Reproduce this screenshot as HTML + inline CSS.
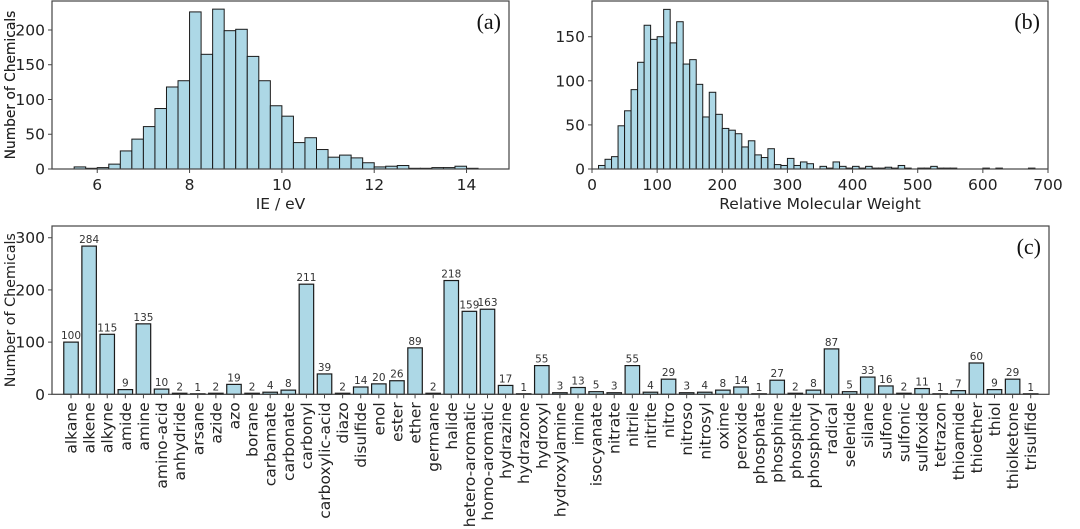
<!DOCTYPE html>
<html><head><meta charset="utf-8">
<style>
html,body{margin:0;padding:0;background:#fff;}
svg{display:block;font-family:"DejaVu Sans","Liberation Sans",sans-serif;}
</style></head>
<body>
<svg id="fig" width="1080" height="529" viewBox="0 0 1080 529" xmlns="http://www.w3.org/2000/svg"></svg>
<script>
// Panel (a): IE histogram
const ieBinStarts = [5.5,5.75,6.0,6.25,6.5,6.75,7.0,7.25,7.5,7.75,8.0,8.25,8.5,8.75,9.0,9.25,9.5,9.75,10.0,10.25,10.5,10.75,11.0,11.25,11.5,11.75,12.0,12.25,12.5,12.75,13.0,13.25,13.5,13.75,14.0];
const ieCounts = [3,1,2,7,26,43,61,87,118,127,226,165,230,199,201,162,127,91,76,38,45,28,17,20,16,9,3,4,5,1,1,2,2,4,1];
const ieBinWidth = 0.25;
const ieXTicks = [6,8,10,12,14];
const ieYTicks = [0,50,100,150,200];
// Panel (b): molecular weight histogram
const mwBinStarts = [10,20,30,40,50,60,70,80,90,100,110,120,130,140,150,160,170,180,190,200,210,220,230,240,250,260,270,280,290,300,310,320,330,340,350,360,370,380,390,400,410,420,430,440,450,460,470,480,490,500,510,520,530,540,550,600,620,670];
const mwCounts = [4,11,14,49,66,90,121,163,147,150,181,143,167,119,124,96,59,87,62,46,44,40,25,32,16,13,23,5,4,12,4,8,6,0,3,1,8,3,1,3,1,3,1,1,2,1,4,1,0,1,1,3,1,1,1,1,1,1];
const mwBinWidth = 10;
const mwXTicks = [0,100,200,300,400,500,600,700];
const mwYTicks = [0,50,100,150];
// Panel (c): functional groups
const groups = ["alkane","alkene","alkyne","amide","amine","amino-acid","anhydride","arsane","azide","azo","borane","carbamate","carbonate","carbonyl","carboxylic-acid","diazo","disulfide","enol","ester","ether","germane","halide","hetero-aromatic","homo-aromatic","hydrazine","hydrazone","hydroxyl","hydroxylamine","imine","isocyanate","nitrate","nitrile","nitrite","nitro","nitroso","nitrosyl","oxime","peroxide","phosphate","phosphine","phosphite","phosphoryl","radical","selenide","silane","sulfone","sulfonic","sulfoxide","tetrazon","thioamide","thioether","thiol","thiolketone","trisulfide"];
const groupCounts = [100,284,115,9,135,10,2,1,2,19,2,4,8,211,39,2,14,20,26,89,2,218,159,163,17,1,55,3,13,5,3,55,4,29,3,4,8,14,1,27,2,8,87,5,33,16,2,11,1,7,60,9,29,1];
const groupYTicks = [0,100,200,300];

const NS = "http://www.w3.org/2000/svg";
const svg = document.getElementById('fig');
function mk(tag, attrs, parent, text){
  const e = document.createElementNS(NS, tag);
  for (const k in attrs) e.setAttribute(k, attrs[k]);
  if (text !== undefined) e.textContent = text;
  (parent||svg).appendChild(e);
  return e;
}
const FILL = "#add8e6", EDGE = "#1a1a1a", AX = "#444";
const FS = 15.5;

function panel(name, box, xmin, xmax, ymin, ymax){
  const g = mk('g', {});
  
  
  const sx = v => box.l + (v - xmin) / (xmax - xmin) * (box.r - box.l);
  const sy = v => box.b - (v - ymin) / (ymax - ymin) * (box.b - box.t);
  return {g, sx, sy};
}
function frame(p, box, name){
  const r = mk('rect', {x:box.l, y:box.t, width:box.r-box.l, height:box.b-box.t, fill:'none', stroke:AX, 'stroke-width':1.2}, p.g);
  
  
}
function yAxis(p, box, ticks, prefix, tfs){
  ticks.forEach(t => {
    const y = p.sy(t);
    mk('line', {x1:box.l-4, x2:box.l, y1:y, y2:y, stroke:AX, 'stroke-width':1}, p.g);
    const tx = mk('text', {x:box.l-7, y:y+5.5, 'text-anchor':'end', 'font-size':FS, fill:'#222'}, p.g, String(t));
    
    
  });
  const cy = (box.t + box.b) / 2;
  const tt = mk('text', {x:0, y:0, transform:`translate(15,${cy}) rotate(-90)`, 'text-anchor':'middle', 'font-size':tfs, fill:'#222'}, p.g, 'Number of Chemicals');
  
  
}
function xAxis(p, box, ticks, title, prefix){
  ticks.forEach(t => {
    const x = p.sx(t);
    mk('line', {x1:x, x2:x, y1:box.b, y2:box.b+4, stroke:AX, 'stroke-width':1}, p.g);
    const tx = mk('text', {x:x, y:box.b+21, 'text-anchor':'middle', 'font-size':FS, fill:'#222'}, p.g, String(t));
    
    
  });
  const tt = mk('text', {x:(box.l+box.r)/2, y:box.b+40, 'text-anchor':'middle', 'font-size':FS, fill:'#222'}, p.g, title);
  
  
}
function panelLabel(p, box, txt, prefix){
  const t = mk('text', {x:box.r-8, y:box.t+28, 'text-anchor':'end', 'font-size':22, 'font-family':'"Liberation Serif",serif', fill:'#111'}, p.g, txt);
  
  
}
function hist(p, starts, counts, w, prefix){
  starts.forEach((s, i) => {
    const x0 = p.sx(s), x1 = p.sx(s + w), y = p.sy(counts[i]), y0 = p.sy(0);
    const r = mk('rect', {x:x0, y:y, width:x1-x0, height:Math.max(0, y0-y), fill:FILL, stroke:EDGE, 'stroke-width':1}, p.g);
    
    
  });
}

// (a)
const boxA = {l:52, r:509, t:1, b:169};
const pa = panel('ie-histogram', boxA, 5.02, 14.92, 0, 241.7);
hist(pa, ieBinStarts, ieCounts, ieBinWidth, 'ie');
frame(pa, boxA, 'ie-plot-frame');
yAxis(pa, boxA, ieYTicks, 'ie', 13.8);
xAxis(pa, boxA, ieXTicks, 'IE / eV', 'ie');
panelLabel(pa, boxA, '(a)', 'ie');

// (b)
const boxB = {l:592, r:1048, t:1, b:169};
const pb = panel('molecular-weight-histogram', boxB, 0, 700, 0, 190.5);
hist(pb, mwBinStarts, mwCounts, mwBinWidth, 'mw');
frame(pb, boxB, 'mw-plot-frame');
yAxis(pb, boxB, mwYTicks, 'mw', 13.8);
xAxis(pb, boxB, mwXTicks, 'Relative Molecular Weight', 'mw');
panelLabel(pb, boxB, '(b)', 'mw');

// (c)
const boxC = {l:52, r:1049, t:226, b:394.3};
const n = groups.length;
const xminC = -1.05, xmaxC = (n - 1) + 1.01;
const pc = panel('functional-group-bar-chart', boxC, xminC, xmaxC, 0, 322.5);
const slot = (boxC.r - boxC.l) / (xmaxC - xminC);
groups.forEach((gname, i) => {
  const cx = pc.sx(i), bw = slot * 0.8;
  const y = pc.sy(groupCounts[i]), y0 = pc.sy(0);
  const r = mk('rect', {x:cx-bw/2, y:y, width:bw, height:Math.max(0,y0-y), fill:FILL, stroke:EDGE, 'stroke-width':1.2}, pc.g);
  
  
  const v = mk('text', {x:cx, y:y-3, 'text-anchor':'middle', 'font-size':10.5, fill:'#333'}, pc.g, String(groupCounts[i]));
  
  
  mk('line', {x1:cx, x2:cx, y1:boxC.b, y2:boxC.b+4, stroke:AX, 'stroke-width':1}, pc.g);
  const t = mk('text', {x:0, y:0, transform:`translate(${cx+5.5},${boxC.b+8}) rotate(-90)`, 'text-anchor':'end', 'font-size':FS, fill:'#222'}, pc.g, gname);
  
  
});
frame(pc, boxC, 'group-plot-frame');
yAxis(pc, boxC, groupYTicks, 'group', 14.3);
panelLabel(pc, boxC, '(c)', 'group');
</script>
</body></html>
